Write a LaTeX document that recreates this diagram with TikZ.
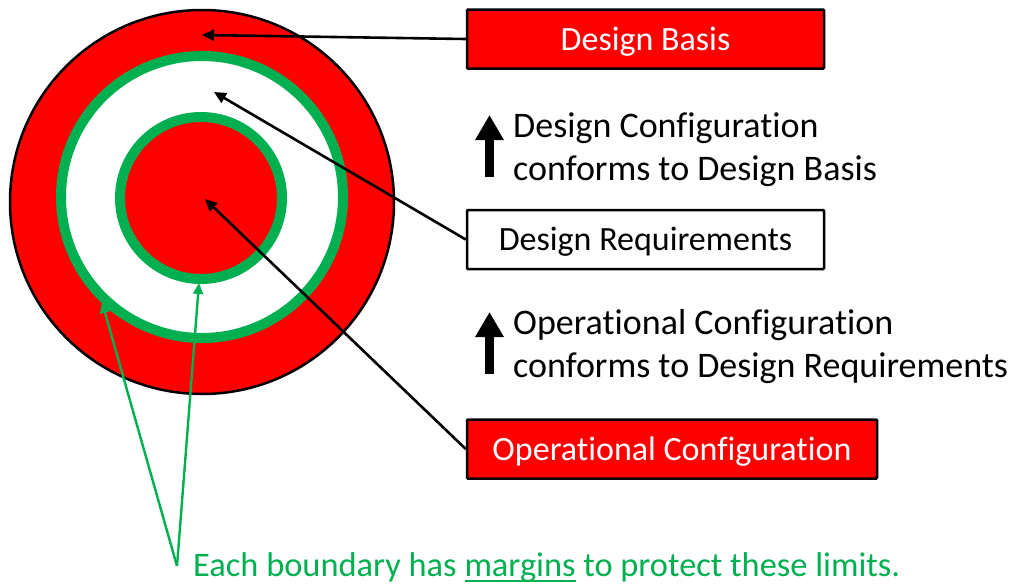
\documentclass[tikz,border=0pt]{standalone}
\usepackage{fontspec}
\setmainfont[Ligatures={NoCommon}]{Carlito}
\usetikzlibrary{arrows.meta}
\definecolor{offred}{HTML}{FF0000}
\definecolor{offgreen}{HTML}{00B050}
\newcommand\gul[1]{\setbox0\hbox{#1}\rlap{\rule[-5.5pt]{\wd0}{1.4pt}}#1}
\tikzset{
  box/.style={draw=black, line width=2.5pt, rounded corners=1pt, minimum height=59pt, inner sep=0pt, text height=22pt, text depth=0pt, font=\fontsize{34}{41}\selectfont},
  redbox/.style={box, fill=offred, text=white},
  whitebox/.style={box, fill=white, text=black},
  pointer/.style={draw=black, line width=2.6pt, -{Triangle[length=12pt,width=11pt]}},
  uparrow/.style={draw=black, line width=9pt, -{Triangle[length=25pt,width=27pt]}},
  gpointer/.style={draw=offgreen, line width=2.4pt, -{Triangle[length=11pt,width=10pt]}},
  lbl/.style={anchor=base west, inner sep=0pt, font=\fontsize{36}{43}\selectfont},
  note/.style={anchor=base west, inner sep=0pt, font=\fontsize{34.4}{41}\selectfont},
}
\begin{document}
\begin{tikzpicture}[x=1pt,y=-1pt]
\useasboundingbox (0,0) rectangle (1013,584);
% circles
\draw[line width=2.5pt, fill=offred] (202,202) circle[radius=192];
\draw[line width=10pt, draw=offgreen, fill=white] (202,197) circle[radius=141];
\draw[line width=10pt, draw=offgreen, fill=offred] (201,198) circle[radius=81];
% target coordinates
\coordinate (tBasis) at (202,35);
\coordinate (tReq) at (214,92);
\coordinate (tOp) at (205,199);
\coordinate (tRing1) at (102,302);
\coordinate (tRing2) at (199,283);
\coordinate (gsrc) at (177,566);
% boxes
\node[redbox, minimum width=357pt] (basis) at (645.5,39) {Design Basis};
\node[whitebox, minimum width=357pt] (req) at (645.5,239.5) {Design Requirements};
\node[redbox, minimum width=410pt] (op) at (672,449) {Operational Configuration};
% pointers
\draw[pointer] (basis.west) -- (tBasis);
\draw[pointer] (req.west) -- (tReq);
\draw[pointer] (op.west) -- (tOp);
% up arrows
\coordinate (u1a) at (489.5,177);
\coordinate (u1b) at (489.5,115);
\coordinate (u2a) at (489.5,374);
\coordinate (u2b) at (489.5,312);
\draw[uparrow] (u1a) -- (u1b);
\draw[uparrow] (u2a) -- (u2b);
% labels
\node[lbl] (l1a) at (513,137) {Design Configuration};
\node[lbl] (l1b) at (513,180.5) {conforms to Design Basis};
\node[lbl] (l2a) at (513,334) {Operational Configuration};
\node[lbl] (l2b) at (513,377.5) {conforms to Design Requirements};
% green note
\node[note, color=offgreen] (notetext) at (193,576) {Each boundary has \gul{margins} to protect these limits.};
\draw[gpointer] (gsrc) -- (tRing1);
\draw[gpointer] (gsrc) -- (tRing2);
\end{tikzpicture}
\end{document}
